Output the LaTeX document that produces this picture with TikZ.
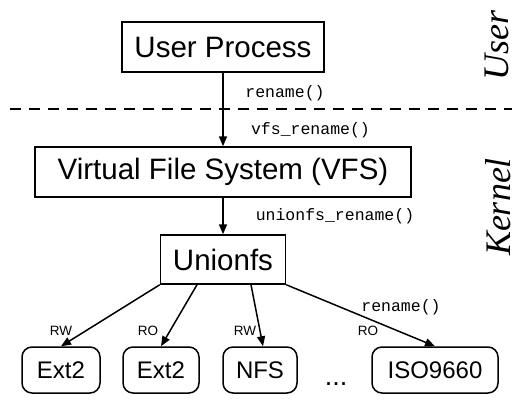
\documentclass[tikz,border=0pt]{standalone}
\usepackage{fontspec}
\setmainfont{Liberation Sans}
\newfontfamily\codefont{Liberation Mono}
\newfontfamily\sidefont{Liberation Serif}
\usetikzlibrary{arrows.meta}

\begin{document}
\begin{tikzpicture}[x=1pt, y=-1pt,
    every node/.style={inner sep=0pt},
    layer/.style={draw, line width=1.5pt, minimum height=50pt, font=\fontsize{29.5}{34}\selectfont},
    fsbox/.style={draw, line width=1.5pt, rounded corners=10pt, minimum height=46pt, font=\fontsize{24}{28}\selectfont},
    call/.style={font=\codefont\fontsize{16.5}{19}\selectfont},
    mode/.style={font=\fontsize{13.5}{16}\selectfont},
    side/.style={rotate=90, font=\sidefont\itshape\fontsize{36}{40}\selectfont},
    link/.style={-{Triangle[length=10pt,width=8pt]}, line width=1.5pt}]
  \useasboundingbox (0,0) rectangle (522,408);
  % layers
  \node[layer, minimum width=202pt] (proc) at (223,47) {User Process};
  \node[layer, minimum width=376pt] (vfs) at (223,172) {Virtual File System (VFS)};
  \node[layer, minimum width=125pt, minimum height=49pt] (union) at (223,259.5) {Unionfs};
  % branches
  \node[fsbox, minimum width=78pt] (ext2a) at (61,370) {Ext2};
  \node[fsbox, minimum width=76pt] (ext2b) at (161,370) {Ext2};
  \node[fsbox, minimum width=74pt] (nfs) at (260,370) {NFS};
  \node[font=\fontsize{27}{30}\selectfont, anchor=base] (more) at (336,385) {...};
  \node[fsbox, minimum width=126pt] (iso) at (435,370) {ISO9660};
  % user / kernel boundary
  \draw[line width=1.2pt, dash pattern=on 11pt off 8pt] (10,109) -- (512,109);
  \node[side] (user) at (497,45) {User};
  \node[side] (kernel) at (498,207) {Kernel};
  % calls
  \draw[link] (proc) -- (vfs);
  \draw[link] (vfs) -- (union);
  \draw[link] (union.south west) -- (ext2a.north);
  \draw[link] ([xshift=-26pt]union.south) -- (ext2b.north);
  \draw[link] ([xshift=28pt]union.south) -- ([xshift=3pt]nfs.north);
  \draw[link] (union.south east) -- (iso.north);
  \node[call] (c1) at (285,93) {rename()};
  \node[call] (c2) at (310.5,130) {vfs\_rename()};
  \node[call] (c3) at (335,216) {unionfs\_rename()};
  \node[call] (c4) at (401,307) {rename()};
  \node[mode] (m1) at (61,331) {RW};
  \node[mode] (m2) at (148,331) {RO};
  \node[mode] (m3) at (245,331) {RW};
  \node[mode] (m4) at (368,331) {RO};
\end{tikzpicture}
\end{document}
